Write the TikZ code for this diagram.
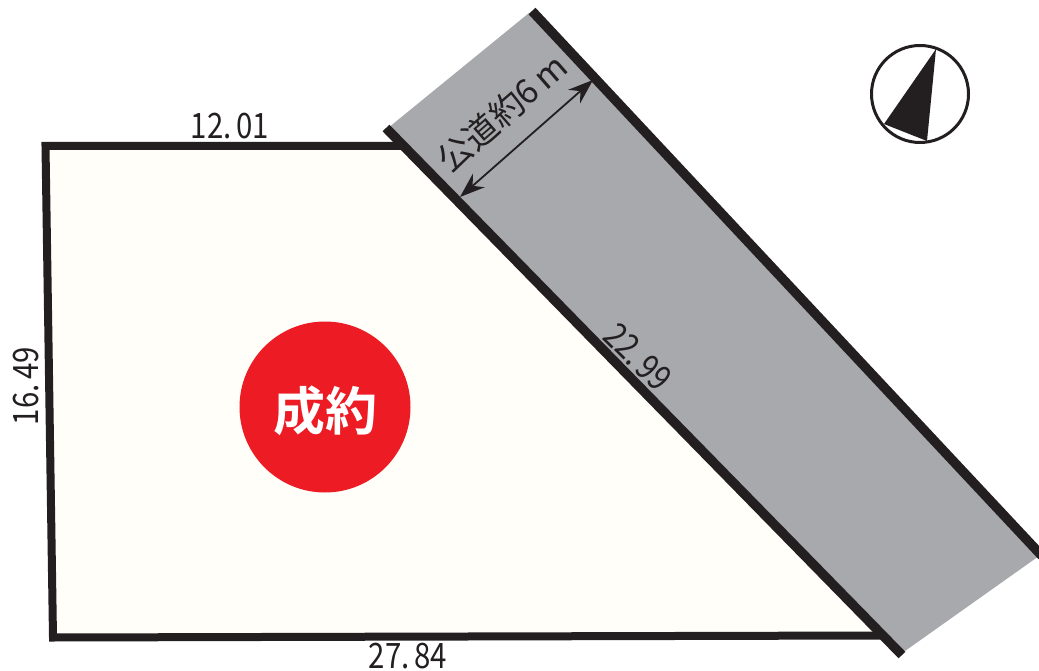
\documentclass[tikz,border=0pt]{standalone}
\usepackage{fontspec}
\newfontfamily\jpfont{Noto Sans CJK JP}
\newfontfamily\jpbold{Noto Sans CJK JP Bold}
\definecolor{ink}{HTML}{231F20}
\definecolor{road}{HTML}{A7A9AC}
\definecolor{lot}{HTML}{FFFEF9}
\definecolor{stamp}{HTML}{ED1C24}
\usetikzlibrary{arrows.meta}
\tikzset{
  dim/.style={font=\jpfont\fontsize{35}{35}\selectfont, text=ink, inner sep=0pt, xscale=.84},
  edge/.style={draw=ink, line width=8pt, line cap=butt},
  roadedge/.style={draw=ink, line width=9.5pt, line cap=butt},
}
\begin{document}
\begin{tikzpicture}[x=1pt,y=-1pt]
\useasboundingbox (0,0) rectangle (1039,671);
\coordinate (lotA) at (45.5,146);
\coordinate (lotB) at (403,146);
\coordinate (lotC) at (880,635.5);
\coordinate (lotD) at (53,637.5);
\coordinate (rA) at (386,128);
\coordinate (rB) at (902,655);
\coordinate (sA) at (532,11);
\coordinate (sB) at (1042,556);
\fill[lot] (lotA) -- (lotB) -- (lotC) -- (lotD) -- cycle;
\fill[road] (388,128) -- (529,13) -- (1039,556) -- (905,651) -- cycle;
\draw[edge, line join=miter] (lotB) -- (lotA) -- (lotD) -- (lotC);
\draw[roadedge] (rA) -- (rB);
\draw[roadedge] (sA) -- (sB);
\node[circle, fill=stamp, minimum size=171pt, inner sep=0pt] (mark) at (325,407) {};
\node[font=\jpbold\fontsize{52}{52}\selectfont, text=white, inner sep=0pt] (label) at (325,411) {成約};
\node[dim] (top) at (230,126) {12.\,01};
\node[rotate=90, dim] (left) at (26,386) {16.\,49};
\node[dim] (bottom) at (408,656.5) {27.\,84};
\node[rotate=-45, dim] (side) at (638,357) {22.\,99};
\coordinate (w1) at (460,197);
\coordinate (w2) at (593,80);
\draw[ink, line width=1.8pt, {Stealth[length=25pt,width=18pt]}-{Stealth[length=25pt,width=18pt]}] (w1) -- (w2);
\node[font=\jpfont\fontsize{34}{34}\selectfont, text=ink, inner sep=0pt, rotate=41] (width) at (502,113) {公道約6\,m};
\node[circle, draw=ink, line width=3pt, fill=white, minimum size=97pt, inner sep=0pt] (compass) at (920,94) {};
\fill[ink] (936,49) -- (927,141) -- (884,124) -- cycle;
\end{tikzpicture}
\end{document}
